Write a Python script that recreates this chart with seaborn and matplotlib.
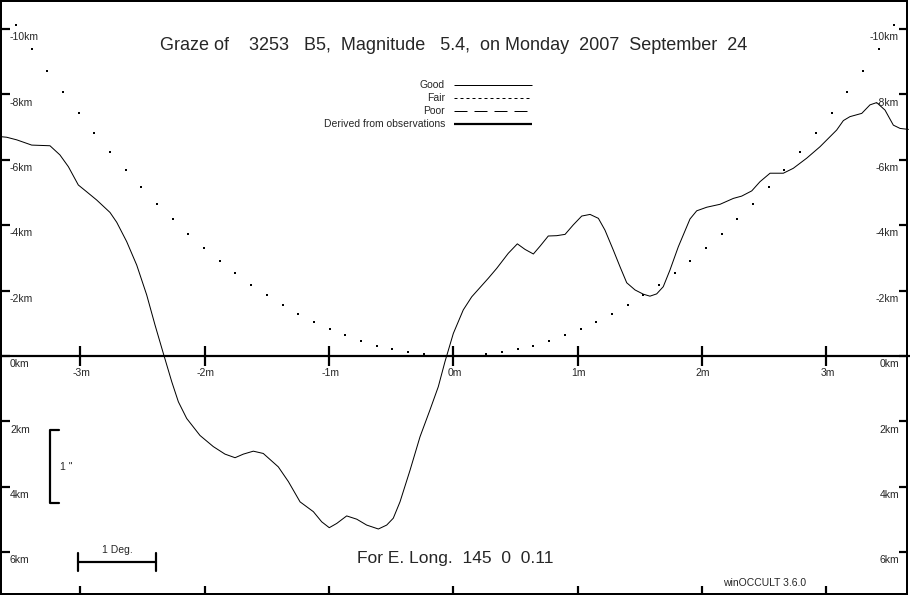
import numpy as np
import pandas as pd
import seaborn as sns
import matplotlib
matplotlib.use("Agg")
import matplotlib.pyplot as plt
from matplotlib.transforms import Affine2D
from matplotlib.patches import Rectangle

# profile derived from observations (minutes from central, km from limb)
prof_min = [-3.647, -3.593, -3.512, -3.392, -3.245, -3.165, -3.097, -3.017, -2.949, -2.869,
            -2.762, -2.708, -2.628, -2.547, -2.467, -2.400, -2.333, -2.265, -2.212, -2.145,
            -2.038, -1.931, -1.837, -1.756, -1.689, -1.609, -1.529, -1.408, -1.327, -1.233,
            -1.126, -1.059, -0.998, -0.938, -0.858, -0.777, -0.697, -0.603, -0.536, -0.483,
            -0.429, -0.348, -0.268, -0.188, -0.121, -0.067, 0.000, 0.080, 0.148, 0.282,
            0.349, 0.442, 0.515, 0.577, 0.644, 0.698, 0.764, 0.832, 0.899, 0.965,
            1.033, 1.100, 1.167, 1.220, 1.287, 1.341, 1.395, 1.462, 1.529, 1.582,
            1.636, 1.689, 1.743, 1.810, 1.904, 1.958, 2.039, 2.146, 2.253, 2.320,
            2.401, 2.467, 2.548, 2.655, 2.735, 2.843, 2.950, 3.084, 3.138, 3.191,
            3.286, 3.352, 3.406, 3.473, 3.540, 3.594, 3.661]
prof_km = [-6.71, -6.69, -6.61, -6.45, -6.43, -6.15, -5.79, -5.23, -5.02, -4.77,
           -4.39, -4.09, -3.50, -2.78, -1.87, -0.95, -0.08, 0.79, 1.40, 1.91,
           2.43, 2.77, 3.00, 3.11, 3.00, 2.91, 2.98, 3.39, 3.84, 4.46,
           4.76, 5.07, 5.25, 5.12, 4.89, 4.99, 5.17, 5.29, 5.17, 4.96,
           4.46, 3.49, 2.47, 1.65, 0.94, 0.17, -0.69, -1.41, -1.81, -2.38,
           -2.68, -3.14, -3.43, -3.26, -3.12, -3.36, -3.67, -3.68, -3.72, -4.01,
           -4.28, -4.33, -4.21, -3.85, -3.24, -2.73, -2.24, -2.02, -1.89, -1.83,
           -1.90, -2.12, -2.63, -3.34, -4.19, -4.44, -4.55, -4.64, -4.82, -4.89,
           -5.05, -5.33, -5.59, -5.59, -5.74, -6.05, -6.40, -6.91, -7.20, -7.32,
           -7.42, -7.68, -7.75, -7.52, -7.06, -6.96, -6.93]

# mean limb (dotted)
limb_min = [-3.520, -3.393, -3.267, -3.141, -3.015, -2.889, -2.762, -2.636, -2.510, -2.384,
            -2.258, -2.131, -2.005, -1.879, -1.753, -1.627, -1.500, -1.374, -1.248, -1.122,
            -0.996, -0.869, -0.743, -0.617, -0.491, -0.365, -0.238, -0.112, 0.014, 0.140,
            0.266, 0.393, 0.519, 0.645, 0.771, 0.897, 1.024, 1.150, 1.276, 1.402,
            1.528, 1.655, 1.781, 1.907, 2.033, 2.159, 2.286, 2.412, 2.538, 2.664,
            2.790, 2.917, 3.043, 3.169, 3.295, 3.421, 3.548]
limb_km = [-10.11, -9.40, -8.72, -8.06, -7.43, -6.82, -6.24, -5.69, -5.16, -4.66,
           -4.18, -3.73, -3.30, -2.90, -2.53, -2.18, -1.86, -1.56, -1.29, -1.05,
           -0.83, -0.63, -0.46, -0.32, -0.21, -0.12, -0.05, -0.01, 0.00, -0.01,
           -0.05, -0.12, -0.21, -0.32, -0.46, -0.63, -0.83, -1.05, -1.29, -1.56,
           -1.86, -2.18, -2.53, -2.90, -3.30, -3.73, -4.18, -4.66, -5.16, -5.69,
           -6.24, -6.82, -7.43, -8.06, -8.72, -9.40, -10.11]

minute_ticks = [-3, -2, -1, 0, 1, 2, 3]
km_ticks = [-10, -8, -6, -4, -2, 0, 2, 4, 6]

title = "Graze of    3253   B5,  Magnitude   5.4,  on Monday  2007  September  24"
footer = "For E. Long.  145  0  0.11"
legend_names = ["Good", "Fair", "Poor", "Derived from observations"]

sns.set_style("white")
plt.rcParams["font.family"] = ["Liberation Sans", "DejaVu Sans"]
plt.rcParams["lines.scale_dashes"] = False

W, H = 910, 596
PX = 0.72  # points per pixel
fig = plt.figure(figsize=(W / 100, H / 100), dpi=100)
ax = fig.add_axes([0, 0, 1, 1])

# pixel transform for the frame and annotations (y down)
pix = Affine2D().scale(1 / W, -1 / H).translate(0, 1) + fig.transFigure

df_prof = pd.DataFrame({"minutes": prof_min, "km": prof_km})
df_limb = pd.DataFrame({"minutes": limb_min, "km": limb_km})

sns.lineplot(data=df_prof, x="minutes", y="km", sort=False, estimator=None,
             color="black", lw=1.0 * PX, ax=ax)
sns.scatterplot(data=df_limb, x="minutes", y="km", marker="s", s=0.6,
                color="black", linewidth=0, ax=ax)
ax.set_xlim(-3.647, 3.674)
ax.set_ylim(7.339, -10.887)
ax.axis("off")

# central axis and minute ticks
ax.axhline(0, color="black", lw=2.2 * PX)
ax.vlines(minute_ticks, -0.31, 0.31, color="black", lw=2.2 * PX)
for m in minute_ticks:
    ax.text(m + 0.01, 0.38, f"{m}m", ha="center", va="top", fontsize=7.5)
ax.vlines(minute_ticks, 2 / H, 10 / H, color="black", lw=2.2 * PX,
          transform=ax.get_xaxis_transform())

# km ticks on both sides
ytr = ax.get_yaxis_transform()
for k in km_ticks:
    ax.plot([0, 10 / W], [k, k], color="black", lw=2.2 * PX, transform=ytr,
            solid_capstyle="butt")
    ax.plot([899 / W, 908 / W], [k, k], color="black", lw=2.2 * PX, transform=ytr,
            solid_capstyle="butt")
    ax.text(10 / W, k + 0.1, f"{k}km", ha="left", va="top", fontsize=7.5, transform=ytr)
    ax.text(899 / W, k + 0.1, f"{k}km", ha="right", va="top", fontsize=7.5, transform=ytr)

# frame
fig.add_artist(Rectangle((1, 1), 906, 593, fill=False, ec="black", lw=2 * PX,
                         transform=pix))

# titles
fig.text(454, 46, title, ha="center", va="center", fontsize=13, transform=pix)
fig.text(455, 558, footer, ha="center", va="center", fontsize=12.5, transform=pix)
fig.text(765, 583, "winOCCULT 3.6.0", ha="center", va="center", fontsize=7.5,
         transform=pix)

# legend
styles = [dict(lw=1.0 * PX, ls="-"),
          dict(lw=1.0 * PX, ls=(0, (3 * PX, 3 * PX))),
          dict(lw=1.0 * PX, ls=(0, (13 * PX, 7 * PX))),
          dict(lw=2.2 * PX, ls="-")]
for i, (name, st) in enumerate(zip(legend_names, styles)):
    yy = 85 + 13 * i
    fig.text(445, yy, name, ha="right", va="center", fontsize=7.5, transform=pix)
    fig.add_artist(plt.Line2D([454, 532], [yy, yy], color="black", transform=pix,
                              solid_capstyle="butt", **st))

# 1 arcsec bracket
fig.add_artist(plt.Line2D([59, 50, 50, 59], [430, 430, 503, 503], color="black",
                          lw=2.2 * PX, transform=pix))
fig.text(60, 467, '1 "', ha="left", va="center", fontsize=7.5, transform=pix)

# 1 degree scale bar
fig.add_artist(plt.Line2D([78, 156], [562, 562], color="black", lw=2.2 * PX, transform=pix))
fig.add_artist(plt.Line2D([78, 78], [553, 571], color="black", lw=2.2 * PX, transform=pix))
fig.add_artist(plt.Line2D([156, 156], [553, 571], color="black", lw=2.2 * PX, transform=pix))
fig.text(117, 550, "1 Deg.", ha="center", va="center", fontsize=7.5, transform=pix)

fig.savefig("out.png", dpi=100, facecolor="white")
